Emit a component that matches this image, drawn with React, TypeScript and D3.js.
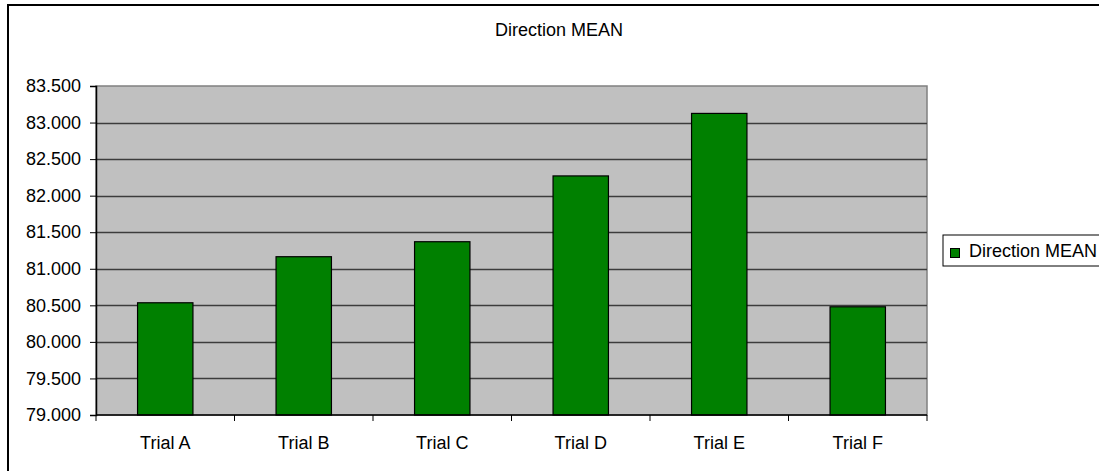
import React, { useRef, useEffect } from 'react';
import * as d3 from 'd3';

const categories = ['Trial A', 'Trial B', 'Trial C', 'Trial D', 'Trial E', 'Trial F'];
const directionMean = [80.535, 81.165, 81.37, 82.27, 83.125, 80.48];
const yTicks = [79, 79.5, 80, 80.5, 81, 81.5, 82, 82.5, 83, 83.5];
const seriesName = 'Direction MEAN';

export default function App() {
    const svgRef = useRef<SVGSVGElement | null>(null);

    useEffect(() => {
        const width = 1099;
        const height = 471;
        const plot = { left: 96, top: 86, right: 927, bottom: 415 };
        const font = '"Liberation Sans", Arial, sans-serif';
        const fs = 18;

        const svg = d3.select(svgRef.current)
            .attr('width', width)
            .attr('height', height);
        svg.selectAll('*').remove();

        // outer chart frame (runs off the right and bottom edges)
        svg.append('rect')
            .attr('x', 8)
            .attr('y', 5)
            .attr('width', 1120)
            .attr('height', 480)
            .attr('fill', '#fff')
            .attr('stroke', '#000')
            .attr('stroke-width', 2);

        const x = d3.scaleBand()
            .domain(categories)
            .range([plot.left, plot.right])
            .paddingInner(0.6)
            .paddingOuter(0.3);

        const band = d3.scaleBand()
            .domain(categories)
            .range([plot.left, plot.right]);

        const y = d3.scaleLinear()
            .domain([79, 83.5])
            .range([plot.bottom, plot.top]);

        svg.append('rect')
            .attr('x', plot.left)
            .attr('y', plot.top)
            .attr('width', plot.right - plot.left)
            .attr('height', plot.bottom - plot.top)
            .attr('fill', '#c0c0c0')
            .attr('stroke', '#808080')
            .attr('stroke-width', 1.5);

        svg.selectAll('.grid')
            .data(yTicks.slice(1, -1))
            .enter()
            .append('line')
            .attr('x1', plot.left)
            .attr('x2', plot.right)
            .attr('y1', d => Math.round(y(d)) + 0.5)
            .attr('y2', d => Math.round(y(d)) + 0.5)
            .attr('stroke', '#3c3c3c')
            .attr('stroke-width', 1.5);

        svg.selectAll('.bar')
            .data(directionMean)
            .enter()
            .append('rect')
            .attr('x', (d, i) => x(categories[i])!)
            .attr('y', d => y(d))
            .attr('width', x.bandwidth())
            .attr('height', d => plot.bottom - y(d))
            .attr('fill', '#008000')
            .attr('stroke', '#000')
            .attr('stroke-width', 1.2);

        // y axis
        const yAxis = d3.axisLeft(y)
            .tickValues(yTicks)
            .tickSize(6)
            .tickPadding(9)
            .tickFormat(d => d3.format('.3f')(d as number));
        const yg = svg.append('g')
            .attr('transform', `translate(${plot.left},0)`)
            .call(yAxis);
        yg.select('.domain').attr('stroke', '#000').attr('stroke-width', 1.5);
        yg.selectAll('.tick line').attr('stroke', '#000');
        yg.selectAll('.tick text')
            .attr('font-family', font)
            .attr('font-size', fs)
            .attr('fill', '#000');

        // x axis
        const xg = svg.append('g')
            .attr('transform', `translate(0,${plot.bottom})`);
        xg.append('line')
            .attr('x1', plot.left)
            .attr('x2', plot.right)
            .attr('stroke', '#000')
            .attr('stroke-width', 1.5);
        const boundaries = categories.map(c => band(c)!).concat([plot.right]);
        xg.selectAll('.xtick')
            .data(boundaries)
            .enter()
            .append('line')
            .attr('x1', d => d)
            .attr('x2', d => d)
            .attr('y1', 0)
            .attr('y2', 6)
            .attr('stroke', '#000');
        xg.selectAll('.xlabel')
            .data(categories)
            .enter()
            .append('text')
            .attr('x', d => band(d)! + band.bandwidth() / 2)
            .attr('y', 34)
            .attr('text-anchor', 'middle')
            .attr('font-family', font)
            .attr('font-size', fs)
            .text(d => d);

        svg.append('text')
            .attr('x', 559)
            .attr('y', 36)
            .attr('text-anchor', 'middle')
            .attr('font-family', font)
            .attr('font-size', fs)
            .text(seriesName);

        // legend
        svg.append('rect')
            .attr('x', 943)
            .attr('y', 235)
            .attr('width', 170)
            .attr('height', 31)
            .attr('fill', '#fff')
            .attr('stroke', '#000');
        svg.append('rect')
            .attr('x', 950.5)
            .attr('y', 248.5)
            .attr('width', 9)
            .attr('height', 9)
            .attr('fill', '#008000')
            .attr('stroke', '#000');
        svg.append('text')
            .attr('x', 969)
            .attr('y', 257)
            .attr('font-family', font)
            .attr('font-size', fs)
            .text(seriesName);
    }, []);

    return (
        <svg ref={svgRef} style={{ position: 'absolute', left: 0, top: 0, display: 'block' }}></svg>
    );
}
